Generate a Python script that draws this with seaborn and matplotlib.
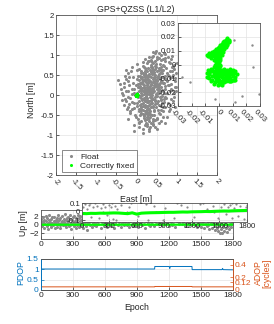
import matplotlib
matplotlib.use('Agg')

import numpy as np
import pandas as pd
import seaborn as sns
import matplotlib.pyplot as plt

sns.set_theme(style="ticks")
plt.rcParams['font.family'] = ['Liberation Sans', 'DejaVu Sans']

# === Data ===
# float solution, horizontal [m] - core of the cloud
float_east = [
    0.31, 0.12, 0.45, 0.27, 0.58, -0.05, 0.39, 0.22, 0.66, 0.18,
    0.35, 0.50, 0.08, 0.29, 0.41, 0.15, 0.72, 0.24, 0.53, 0.03,
    0.37, 0.19, 0.61, 0.44, 0.10, 0.33, 0.26, 0.55, 0.48, 0.20,
    0.06, 0.40, 0.63, 0.28, 0.14, 0.47, 0.34, 0.79, 0.01, 0.23,
    0.52, 0.17, 0.38, 0.69, 0.30, -0.10, 0.43, 0.25, 0.57, 0.11,
    0.36, 0.21, 0.64, 0.46, 0.09, 0.32, 0.75, 0.27, 0.49, 0.16,
    -0.15, 0.42, 0.05, 0.59, 0.28, 0.38, 0.13, 0.67, 0.22, 0.51,
    0.33, 0.19, 0.82, 0.44, 0.07, 0.26, 0.55, 0.35, -0.02, 0.62,
    0.40, 0.14, 0.47, 0.29, 0.71, 0.03, 0.36, 0.24, 0.58, 0.18,
    0.45, 0.10, 0.32, 0.66, 0.23, 0.50, 0.00, 0.39, 0.86, 0.20,
    0.30, 0.54, 0.12, 0.43, 0.27, 0.61, -0.08, 0.35, 0.48, 0.16,
    0.73, 0.25, 0.40, 0.06, 0.57, 0.31, 0.20, 0.68, 0.44, -0.12,
    0.34, 0.15, 0.52, 0.28, 0.80, 0.09, 0.47, 0.37, 0.22, 0.63,
    0.04, 0.41, 0.26, 0.55, 0.18, 0.70, 0.33, 0.11, 0.49, 0.29,
    0.60, 0.21, 0.38, -0.04, 0.45, 0.13, 0.76, 0.32, 0.53, 0.24,
    0.42, 0.08, 0.65, 0.36, 0.19, 0.50, 0.27, 0.84, 0.02, 0.39,
    0.56, 0.17, 0.31, 0.46, 0.10, 0.68, 0.25, 0.43, -0.06, 0.59,
    0.34, 0.20, 0.48, 0.14, 0.62, 0.29, 0.40, 0.07, 0.74, 0.23,
    0.51, 0.35, 0.12, 0.44, 0.26, 0.78, 0.03, 0.57, 0.30, 0.47,
    0.16, 0.64, 0.38, 0.22, 0.53, 0.05, 0.42, 0.70, 0.27, 0.36,
    -0.45, -0.42, -0.25, -0.20, -0.18, 0.90, 0.95, 0.88, -0.05, 0.15,
    0.60, 0.70, 0.42, 0.80, 0.55, 0.00, -0.22, 0.20, 0.50, 0.65,
    0.32, 0.18, 0.45, 0.28, 0.38, 0.24, 0.50, 0.33, 0.41, 0.27,
    0.37, 0.21, 0.46, 0.30, 0.55, 0.12, 0.39, 0.25, 0.48, 0.34,
    0.43, 0.19, 0.58, 0.28, 0.36, 0.51, 0.09, 0.31, 0.62, 0.22,
    -0.027, -0.021, 0.012, 0.017, 0.029, 0.024, 0.025, 0.011, -0.003,
]
float_north = [
    0.12, -0.35, 0.40, -0.08, 0.55, -0.20, 0.18, 0.61, 0.30, -0.52,
    -0.15, 0.05, 0.22, 0.33, -0.28, 0.09, 0.48, -0.41, 0.21, -0.06,
    0.71, 0.02, -0.10, 0.26, -0.30, -0.47, 0.44, 0.68, -0.02, 0.15,
    0.38, -0.60, 0.12, 0.85, -0.12, 0.36, -0.22, 0.25, 0.05, -0.70,
    0.90, 0.28, 0.01, -0.18, 0.52, 0.14, -0.38, 0.20, 0.43, -0.45,
    0.25, -0.25, 0.62, -0.12, 0.48, 0.07, 0.05, -0.55, 0.78, 0.35,
    -0.08, 0.58, -0.40, 0.31, -0.32, 0.95, 0.00, -0.30, 0.40, -0.20,
    -0.05, 0.70, 0.60, 0.10, -0.15, 0.30, -0.45, 0.46, 0.25, 0.20,
    -0.75, 0.18, 0.65, -0.18, 0.40, -0.60, 0.33, 0.08, -0.05, -0.10,
    1.05, 0.42, -0.35, 0.75, -0.02, 0.28, -0.28, 0.52, 0.15, -0.62,
    0.03, 0.12, -0.22, -0.50, 0.60, 0.45, 0.30, -0.12, 0.22, 0.55,
    -0.08, 0.15, 0.80, 0.10, -0.25, -0.65, 0.37, 0.05, 0.45, -0.35,
    0.62, -0.48, 0.35, 0.11, 0.82, -0.02, -0.15, 0.28, -0.30, 0.55,
    0.20, 0.15, -0.78, 0.92, 0.26, 0.22, -0.40, 0.60, 0.02, 0.40,
    -0.38, -0.15, 0.70, -0.50, 0.30, 0.32, 0.35, -0.25, 0.48, -0.05,
    -0.30, -0.25, 0.90, 0.05, 0.50, -0.60, 0.25, 0.42, 0.40, -0.08,
    0.62, -0.38, 0.38, 0.72, 0.12, 0.30, -0.45, 0.20, 0.05, 0.10,
    -0.55, 0.08, 1.10, 0.45, -0.12, 0.18, 0.40, -0.70, 0.68, 0.32,
    -0.02, 0.58, -0.08, -0.40, 0.02, 0.50, 0.28, 0.25, -0.85, 0.50,
    -0.20, -0.20, 0.15, 0.68, 0.05, -0.35, 0.62, -0.05, -0.12, 0.88,
    0.38, 0.28, 0.10, -0.30, 0.45, 0.70, 0.20, 0.98, -0.90, -0.85,
    1.00, 1.02, 0.98, -0.40, -0.70, 0.62, -0.05, 0.90, -0.85, -0.55,
    0.48, 0.20, -0.05, 0.30, -0.20, 0.12, 0.38, 0.22, 0.08, -0.28,
    0.10, 0.45, 0.25, -0.38, 0.15, 0.05, 0.68, -0.18, -0.30, 0.35,
    0.52, -0.08, 0.40, -0.50, 0.00, 0.60, 0.30, 0.20, 0.35, -0.40,
    -0.009, -0.013, -0.027, -0.023, -0.021, 0.014, -0.002, 0.018, -0.025,
]
# float solution, outer part of the cloud [m]
float_east_outer = [
    -0.30, -0.28, -0.35, -0.25, -0.32, -0.20, -0.15, -0.38, -0.22, -0.10,
    0.95, 0.98, 0.92, 1.00, 0.90, 0.85, 0.96, 0.88, 0.99, 0.93,
    0.75, 0.82, 0.70, 0.78, 0.72, 0.85, 0.80, 0.76, 0.68, 0.88,
    -0.05, 0.05, 0.10, 0.20, 0.30, 0.35, 0.45, 0.25, 0.15, 0.40,
    0.30, 0.40, 0.55, 0.25, 0.50, 0.62, 0.35, 0.58, 0.45, 0.70,
    -0.18, -0.12, -0.08, -0.05, -0.14, -0.02, -0.10, -0.16, 0.00, -0.06,
    0.65, 0.72, 0.60, 0.78, 0.66, 0.74, 0.82, 0.68, 0.62, 0.80,
    0.10, 0.05, 0.15, 0.08, 0.02, 0.12, 0.18, 0.04, 0.16, 0.06,
    0.52, 0.58, 0.45, 0.62, 0.48, 0.55, 0.42, 0.65, 0.38, 0.60,
    0.28, 0.32, 0.22, 0.35, 0.20, 0.26, 0.38, 0.30, 0.24, 0.34,
    0.90, 0.86, 0.94, 0.84, 0.97, 0.89, 0.92, 0.83, 0.95, 0.87,
    -0.25, -0.30, -0.20, -0.28, -0.24, -0.33, -0.18, -0.26, -0.22, -0.35,
    0.50, 0.42, 0.36, 0.47, 0.28, 0.33, 0.40, 0.52, 0.30, 0.44,
    0.18, 0.26, 0.14, 0.22, 0.12, 0.29, 0.17, 0.23, 0.09, 0.31,
    0.56, 0.63, 0.54, 0.67, 0.59, 0.71, 0.57, 0.64, 0.53, 0.69,
]
float_north_outer = [
    0.20, -0.10, 0.05, 0.40, -0.25, 0.55, -0.45, 0.15, -0.60, 0.70,
    0.35, 0.55, 0.05, 0.80, -0.15, 0.90, -0.30, 0.45, 0.10, 0.65,
    -0.55, -0.35, -0.70, 0.95, 0.85, -0.10, 0.25, 0.55, 1.05, 0.70,
    -0.75, -0.80, -0.65, -0.75, -0.90, -0.70, -0.80, -0.60, -0.95, -0.65,
    0.95, 1.08, 1.05, 0.80, 0.95, 0.88, 0.75, 0.78, 0.85, 0.92,
    0.25, -0.18, 0.45, -0.32, 0.60, -0.55, 0.02, -0.40, 0.78, 0.15,
    -0.40, 0.15, -0.65, -0.20, 0.62, 0.40, 0.10, -0.10, 0.70, 0.48,
    0.55, 0.65, 0.72, -0.50, -0.20, 0.30, -0.58, 0.48, 0.82, -0.68,
    -0.58, -0.48, -0.62, -0.28, 0.70, 0.52, -0.72, 0.10, 0.82, 0.58,
    0.68, -0.58, 0.55, 0.60, -0.48, -0.72, -0.50, 0.85, 0.50, -0.80,
    0.50, 0.28, 0.75, -0.25, 0.20, 0.60, -0.05, 0.80, 0.42, 0.12,
    -0.15, 0.30, 0.10, 0.48, -0.35, 0.00, -0.22, 0.62, 0.35, -0.12,
    0.15, 0.32, -0.30, -0.22, 0.38, 0.15, -0.10, 0.45, -0.15, 0.58,
    0.12, -0.35, 0.40, -0.08, -0.38, 0.48, -0.28, 0.62, 0.18, -0.42,
    0.28, -0.02, -0.38, 0.45, 0.65, -0.30, 0.05, 0.32, -0.15, 0.72,
]

# correctly fixed solution, horizontal [mm]
fix_east_mm = [
    -9, -8, -7, -6, -5, -4, -6, -3, -2, -1,
    0, 1, 2, 3, 4, 5, 6, 7, 5, 6,
    4, 3, 2, 1, 0, -1, -2, -3, -4, -2,
    0, 1, 2, 3, 4, 5, 6, 7, 3, 2,
    1, 0, -1, -2, -3, -4, -5, -7, 0, 2,
    4, 6, 7, 5, 3, 1, -1, -3, -5, -8,
    -2, -1, 0, -3, -1, 1, 0, -2, 1, -1,
    -9, -8, -7, -6, -5, -4, -3, -2, -1, 0,
    1, 2, 3, 4, 5, 6, 7, 8, 9, 10,
    11, 12, 13, 11, 9, 7, 5, 3, 1, -1,
    -3, -5, -7, -8, -6, -4, -2, 0, 2, 4,
    6, 8, 10, 12, -6, -4, -2, 0, 2, 4,
    6, 8, 10, 12, -5, -3, -1, 1, 3, 5,
    7, 9, -7, -9, 0, 2, -2, 4, 6, 8,
    -2, 0, -1, 1, -3, -2, 0, 2, -1, 3,
]
fix_north_mm = [
    7, 6, 8, 7, 9, 8, 5, 6, 9, 10,
    11, 12, 13, 14, 15, 16, 17, 18, 18, 15,
    13, 11, 10, 8, 7, 6, 5, 4, 3, 3,
    4, 5, 7, 9, 11, 13, 14, 16, 16, 15,
    14, 13, 12, 11, 10, 10, 6, 6, 9, 11,
    17, 19, 17, 15, 12, 10, 8, 8, 7, 7,
    2, 1, 0, 0, -1, 0, 2, -1, 3, 3,
    -6, -4, -7, -5, -8, -6, -9, -7, -10, -8,
    -6, -9, -7, -10, -8, -6, -9, -7, -5, -8,
    -6, -9, -7, -11, -12, -12, -12, -13, -14, -15,
    -13, -11, -10, -9, -3, -2, -4, -3, -4, -3,
    -4, -3, -4, -5, -12, -14, -12, -11, -12, -13,
    -10, -10, -11, -11, -4, -5, -6, -4, -5, -5,
    -5, -7, -6, -9, -13, -15, -9, -7, -8, -12,
    -2, -2, -5, -1, -7, -10, -6, -8, -12, -11,
]

# up component [m]: float samples every 5 epochs (0-495), every 10 epochs (500-1790)
up_float_a = [
    0.8, 1.4, -0.4, 0.3, 1.9, 0.6, -0.9, 1.2, 0.2, 2.0,
    0.9, -0.3, 1.6, 0.5, -1.1, 1.0, 2.2, 0.1, 0.7, -0.6,
    1.3, 0.4, 1.8, -0.2, 0.9, 1.9, 0.3, -0.8, 1.2, 0.6,
    1.7, -0.5, 0.8, 2.3, 0.2, 1.1, -0.7, 1.5, 0.4, 0.9,
    2.1, 0.5, -0.2, 1.4, 0.7, 2.5, 0.0, 1.0, -0.6, 1.6,
    0.3, 1.9, 0.8, -0.4, 1.3, 2.2, 0.5, -1.0, 1.1, 0.2,
    1.8, 0.6, -0.3, 2.0, 0.9, 0.1, 1.5, -0.7, 1.2, 2.4,
    0.4, -0.5, 1.7, 0.8, 2.1, -0.1, 1.0, 0.5, 1.9, -0.8,
    1.3, 0.2, 2.3, 0.7, -0.4, 1.6, 0.9, -1.2, 1.1, 0.3,
    2.0, 0.6, -0.2, 1.4, 0.8, 1.8, -0.6, 0.4, 1.2, 0.0,
]
up_float_b = [
    0.5, 1.3, -0.4, 0.8, 0.1, 1.6, -0.7, 0.6, 1.1, -0.2,
    0.9, 0.3, -0.6, 1.4, 0.2, 0.7, -0.3, 1.2, 0.5, -0.8,
    0.4, 1.0, -0.1, 0.6, 1.5, -0.5, 0.3, 0.9, -0.2, 0.7,
    1.2, 0.0, 0.5, -0.6, 0.8, 1.3, -0.3, 0.4, 1.0, -0.1,
    0.6, -0.5, 1.1, 0.3, 0.7, -0.2, 1.4, 0.2, -0.7, 0.9,
    0.4, 1.2, -0.3, 0.6, 0.1, 1.0, -0.4, 0.8, 1.5, 0.2,
    1.1, 0.5, 1.8, 0.3, -0.2, 1.4, 0.7, 2.0, 0.4, 0.9,
    -0.3, 1.3, 0.6, 1.7, 0.2, 1.0, -0.5, 1.5, 0.8, 0.3,
    1.2, 1.9, 0.1, 0.7, 1.4, -0.4, 1.0, 0.5, 1.6, 0.2,
    0.9, -0.2, 1.3, 0.6, 0.0, 1.1, -0.6, 0.8, 0.3, 1.2,
    -0.5, 0.4, 0.9, -0.9, 0.2, 1.0, -0.3, 0.6, -1.0, 0.3,
    -0.7, 0.5, -0.2, -1.2, 0.1, -0.8, -1.5, -0.4, -1.9, -1.1,
    -2.0, -0.6, -1.4, -0.9, -1.7, -0.3, -1.0, 0.2, -0.5, 0.4,
]
# float epochs that fall close to zero (visible in the zoomed inset)
up_small_epoch = [
    12, 35, 58, 77, 96, 118, 140, 163, 185, 207, 229, 252, 274, 298, 321,
    344, 366, 389, 430, 520, 610, 700, 790, 905, 1010, 1080, 1150, 1225,
    1290, 1360, 1430, 1480, 1520, 1545, 1570, 1590, 1615, 1640, 1660,
    1685, 1705, 1725, 1745, 1765, 1785, 1795,
]
up_small = [
    0.06, 0.09, 0.03, 0.08, -0.06, 0.05, 0.10, 0.07, -0.08, 0.04,
    0.09, 0.06, -0.04, 0.08, 0.05, -0.09, 0.07, 0.03, 0.08, 0.06,
    -0.05, 0.09, 0.07, 0.04, -0.07, 0.08, 0.05, -0.06, 0.09, 0.03,
    0.07, -0.08, 0.06, 0.09, -0.03, 0.05, 0.08, -0.07, 0.04, 0.09,
    -0.05, 0.07, 0.02, -0.09, 0.06, 0.08,
]
# fixed up every 50 epochs [m]
up_fixed = [
    -0.022, -0.024, -0.020, -0.021, -0.018, -0.019, -0.017, -0.015, -0.016, -0.020,
    -0.024, -0.014, -0.030, -0.018, -0.015, -0.013, -0.012, -0.011, -0.009, -0.008,
    -0.008, -0.006, -0.004, -0.005, -0.002, -0.001, 0.000, 0.002, 0.001, 0.004,
    0.006, 0.008, 0.007, 0.010, 0.012, 0.013, 0.015,
]

# DOP
pdop_epoch = [0, 1068, 1070, 1205, 1210, 1215, 1418, 1420, 1700, 1705, 1710, 1800]
pdop = [1.00, 1.00, 1.12, 1.12, 1.02, 1.12, 1.12, 0.97, 0.97, 1.03, 0.97, 0.96]
adop_epoch = [0, 1068, 1070, 1418, 1420, 1800]
adop = [0.05, 0.05, 0.056, 0.056, 0.05, 0.05]

epoch_ticks = [0, 300, 600, 900, 1200, 1500, 1800]
en_ticks = [-2, -1.5, -1, -0.5, 0, 0.5, 1, 1.5, 2]
zoom_ticks = [-0.03, -0.02, -0.01, 0, 0.01, 0.02, 0.03]

GRAY = '#8a8a8a'
GREEN = '#00ff00'
BLUE = '#0072bd'
ORANGE = '#d95319'
DARK = '#262626'
W, H = 274, 324


def box(l, t, r, b):
    return [l / W, 1 - b / H, (r - l) / W, (b - t) / H]


def style(ax, fs=5.6):
    ax.grid(True, color='#e3e3e3', lw=0.5)
    ax.set_axisbelow(True)
    ax.tick_params(direction='in', length=2, width=0.5, labelsize=fs,
                   colors=DARK, pad=1.5)
    for s in ax.spines.values():
        s.set_linewidth(0.6)
        s.set_color('#555555')
    ax.set_xlabel('')
    ax.set_ylabel('')


def fmt(v):
    return f'{v:g}'


fig = plt.figure(figsize=(W / 100, H / 100), dpi=100)

# === Horizontal scatter ===
fl_e = np.concatenate([float_east, float_east_outer])
fl_n = np.concatenate([float_north, float_north_outer])
fix_e = np.array(fix_east_mm) / 1000
fix_n = np.array(fix_north_mm) / 1000

ax = fig.add_axes(box(56, 15, 217, 175))
sns.scatterplot(x=fl_e, y=fl_n, color=GRAY, s=5, linewidth=0,
                ax=ax, label='Float')
sns.scatterplot(x=fix_e, y=fix_n, color=GREEN, s=5, linewidth=0,
                ax=ax, label='Correctly fixed')
ax.set_xlim(-2, 2)
ax.set_ylim(-2, 2)
ax.set_xticks(en_ticks)
ax.set_yticks(en_ticks)
ax.set_xticklabels([fmt(v) for v in en_ticks], rotation=-45, ha='center')
ax.set_yticklabels([fmt(v) for v in en_ticks])
style(ax)
leg = ax.legend(loc='lower left', bbox_to_anchor=(0.035, 0.018), borderaxespad=0,
                fontsize=6, frameon=True, fancybox=False, markerscale=1.0,
                handletextpad=0.3, labelspacing=0.15, borderpad=0.3,
                handlelength=1.6)
leg.get_frame().set_edgecolor('#555555')
leg.get_frame().set_linewidth(0.6)

ins = fig.add_axes(box(178, 23, 260, 106))
sns.scatterplot(x=fl_e, y=fl_n, color=GRAY, s=3, linewidth=0, ax=ins)
sns.scatterplot(x=fix_e, y=fix_n, color=GREEN, s=9, linewidth=0, ax=ins)
ins.set_xlim(-0.03, 0.03)
ins.set_ylim(-0.03, 0.03)
ins.set_xticks(zoom_ticks)
ins.set_yticks(zoom_ticks)
ins.set_xticklabels([fmt(v) for v in zoom_ticks], rotation=-45, ha='center')
ins.set_yticklabels([fmt(v) for v in zoom_ticks])
style(ins)

fig.text(136 / W, 1 - 9 / H, 'GPS+QZSS (L1/L2)', ha='center', va='center',
         fontsize=6.3, color=DARK)
fig.text(136 / W, 1 - 200 / H, 'East [m]', ha='center', va='center',
         fontsize=6.3, color=DARK)
fig.text(32 / W, 1 - 100 / H, 'North [m]', ha='center', va='center',
         rotation=90, fontsize=6.3, color=DARK)

# === Up ===
up_df = pd.DataFrame({
    'epoch': np.concatenate([np.arange(0, 500, 5), np.arange(500, 1800, 10),
                             up_small_epoch]),
    'up': np.concatenate([up_float_a, up_float_b, up_small]),
})
fix_df = pd.DataFrame({'epoch': np.arange(0, 1801, 50), 'up': up_fixed})

ax_up = fig.add_axes(box(40.7, 210, 233, 239.3))
sns.scatterplot(data=up_df, x='epoch', y='up', color=GRAY, s=5, linewidth=0, ax=ax_up)
sns.lineplot(data=fix_df, x='epoch', y='up', color=GREEN, lw=1.6, ax=ax_up)
ax_up.set_xlim(0, 1800)
ax_up.set_ylim(-3.5, 3.5)
ax_up.set_xticks(epoch_ticks)
ax_up.set_yticks([-2, 0, 2])
style(ax_up, 6)
fig.text(23 / W, 1 - 223 / H, 'Up [m]', ha='center', va='center',
         rotation=90, fontsize=6.3, color=DARK)

ins_up = fig.add_axes(box(81.7, 202.7, 247, 221.7))
sns.scatterplot(data=up_df, x='epoch', y='up', color=GRAY, s=2.5, linewidth=0, ax=ins_up)
sns.lineplot(data=fix_df, x='epoch', y='up', color=GREEN, lw=2.2, ax=ins_up)
ins_up.set_xlim(0, 1800)
ins_up.set_ylim(-0.12, 0.107)
ins_up.set_xticks(epoch_ticks)
ins_up.set_yticks([-0.1, 0, 0.1])
ins_up.set_yticklabels(['-0.1', '0', '0.1'])
style(ins_up, 5.6)
ins_up.tick_params(pad=1)

# === DOP ===
ax_dop = fig.add_axes(box(40.7, 258.5, 232.7, 290))
sns.lineplot(x=pdop_epoch, y=pdop, color=BLUE, lw=0.7, ax=ax_dop)
ax_dop.set_xlim(0, 1800)
ax_dop.set_ylim(0, 1.5)
ax_dop.set_xticks(epoch_ticks)
ax_dop.set_yticks([0, 0.5, 1, 1.5])
ax_dop.set_yticklabels(['0', '0.5', '1', '1.5'])
style(ax_dop, 6)
ax_dop.tick_params(axis='y', colors=BLUE)
ax_dop.spines['left'].set_color(BLUE)

ax_a = ax_dop.twinx()
sns.lineplot(x=adop_epoch, y=adop, color=ORANGE, lw=0.7, ax=ax_a)
ax_a.set_ylim(0, 0.5)
ax_a.set_yticks([0, 0.12, 0.2, 0.4])
ax_a.set_yticklabels(['0', '0.12', '0.2', '0.4'])
ax_a.tick_params(direction='in', length=2, width=0.5, labelsize=6,
                 colors=ORANGE, pad=1.5)
ax_a.set_ylabel('')
for s in ax_a.spines.values():
    s.set_linewidth(0.6)
    s.set_color('#555555')
ax_a.spines['right'].set_color(ORANGE)
ax_a.spines['left'].set_color(BLUE)

fig.text(21 / W, 1 - 273 / H, 'PDOP', ha='center', va='center',
         rotation=90, fontsize=6.3, color=BLUE)
fig.text(262.5 / W, 1 - 273 / H, 'ADOP\n[cycles]', ha='center', va='center',
         rotation=90, fontsize=6.3, color=ORANGE, linespacing=1.0)
fig.text(136.7 / W, 1 - 307.7 / H, 'Epoch', ha='center', va='center',
         fontsize=6.3, color=DARK)

fig.savefig('out.png', dpi=100)
plt.close(fig)
